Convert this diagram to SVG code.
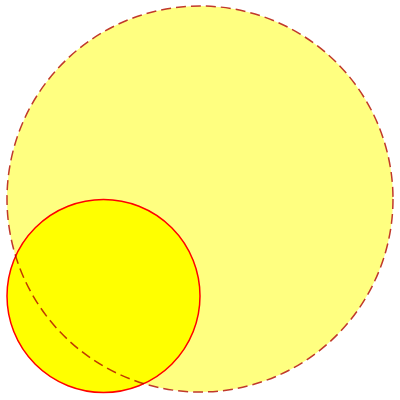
<svg xmlns="http://www.w3.org/2000/svg" width="400" height="400" viewBox="0 0 400 400">
<style>
.big{fill:#ffff80;stroke:#c0392b;stroke-width:1.5;stroke-dasharray:10 5}
.small{fill:#ffff00;stroke:#ff0000;stroke-width:1.5;mix-blend-mode:multiply}
</style>
<rect width="400" height="400" fill="#ffffff"/>
<g id="big-circle"><circle class="big" cx="200" cy="199" r="193"/></g>
<g id="small-circle"><circle class="small" cx="103.5" cy="296" r="96.5"/></g>
</svg>
